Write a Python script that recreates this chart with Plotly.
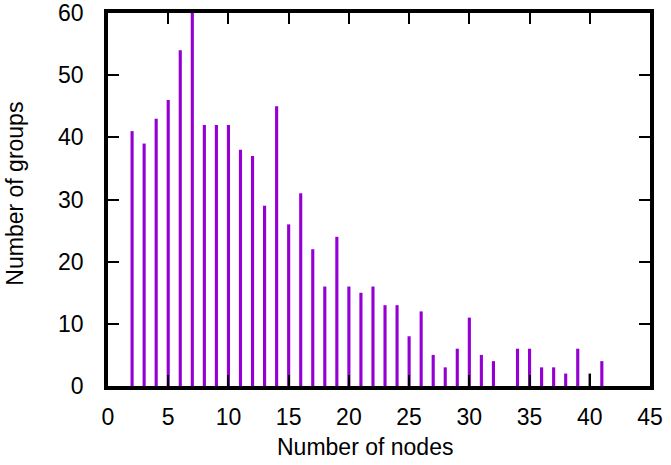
import plotly.graph_objects as go

nodes = list(range(2, 40)) + [41]
groups = [41, 39, 43, 46, 54, 60, 42, 42, 42, 38, 37, 29, 45, 26, 31, 22, 16, 24,
          16, 15, 16, 13, 13, 8, 12, 5, 3, 6, 11, 5, 4, 0, 6, 6, 3, 3, 2, 6, 4]
nodes2 = [40]
groups2 = [2]

x_ticks = list(range(0, 46, 5))
y_ticks = list(range(0, 61, 10))

font = "Liberation Sans, Arial, sans-serif"
fs = 23

fig = go.Figure()
fig.add_trace(go.Bar(x=nodes, y=groups, width=0.26, marker=dict(color="#9400D3", line=dict(width=0))))
fig.add_trace(go.Bar(x=nodes2, y=groups2, width=0.2, marker=dict(color="black", line=dict(width=0))))

axis_common = dict(
    showline=True, linecolor="black", linewidth=3.5, mirror="ticks",
    ticks="inside", ticklen=11, tickwidth=2, tickcolor="black",
    showgrid=False, zeroline=False, automargin=False, ticklabeloverflow="allow",
    tickfont=dict(family=font, size=fs, color="black"),
)

fig.update_layout(
    width=671, height=465,
    margin=dict(l=108, r=21, t=13, b=79),
    paper_bgcolor="white", plot_bgcolor="white",
    showlegend=False, barmode="overlay",
    font=dict(family=font, size=fs, color="black"),
    xaxis=dict(range=[0, 45], tickvals=x_ticks, ticklabelstandoff=8, **axis_common),
    yaxis=dict(range=[0, 60], tickvals=y_ticks, ticklabelstandoff=16, **axis_common),
    annotations=[
        dict(text="Number of nodes", xref="paper", yref="paper", x=0.474, y=-0.163,
             xanchor="center", yanchor="middle", showarrow=False,
             font=dict(family=font, size=fs, color="black")),
        dict(text="Number of groups", xref="paper", yref="paper", x=-0.172, y=0.515,
             xanchor="center", yanchor="middle", textangle=-90, showarrow=False,
             font=dict(family=font, size=fs, color="black")),
    ],
)

fig.write_html("out.html", config={"displayModeBar": False},
               post_script="document.body.style.margin='0px';")
